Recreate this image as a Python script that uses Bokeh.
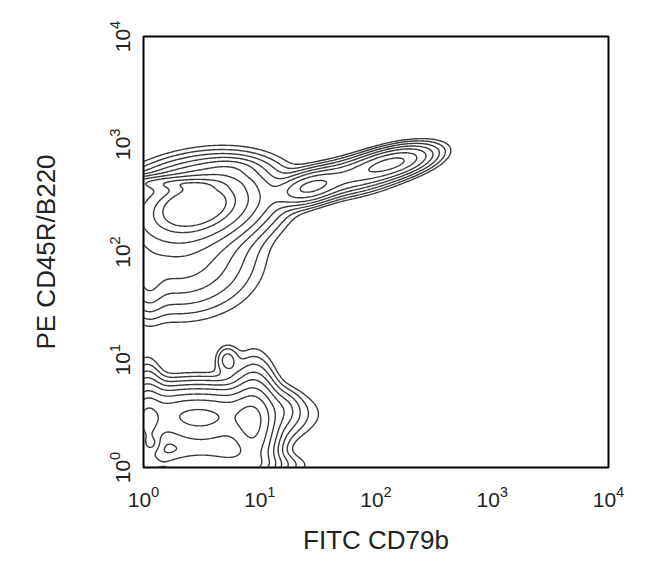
import numpy as np
from contourpy import contour_generator
from bokeh.plotting import figure
from bokeh.models import LogTickFormatter, FixedTicker, Range1d
from bokeh.embed import file_html
from bokeh.resources import INLINE

# Cell populations (log10 units): centre, spread, correlation, height
#            blob  band  T1    T2    T3    smear edge  topb | LA    LB    LC    LD    LH    LE    LF    LG
pop_lx  = [0.45, 0.20, 1.43, 2.15, 1.80, 0.30, 0.04, 0.75, 0.45, 0.95, 0.50, 0.03, 0.50, 0.07, 0.72, 1.22]
pop_ly  = [2.43, 2.64, 2.60, 2.83, 2.70, 1.95, 1.70, 2.78, 0.50, 0.35, 0.02, 0.33, 0.30, 0.22, 1.00, 0.55]
pop_sx  = [0.33, 0.30, 0.16, 0.20, 0.22, 0.35, 0.08, 0.15, 0.42, 0.11, 0.35, 0.08, 0.30, 0.045, 0.06, 0.08]
pop_sy  = [0.20, 0.04, 0.09, 0.09, 0.10, 0.28, 0.18, 0.06, 0.14, 0.30, 0.07, 0.28, 0.22, 0.045, 0.08, 0.10]
pop_rho = [0.25, 0.0, 0.4, 0.5, 0.4, 0.0, 0.0, 0.0, 0.0, 0.0, 0.0, 0.0, 0.0, 0.0, 0.0, 0.0]
pop_w   = [1.00, 0.28, 0.40, 0.42, 0.22, 0.20, 0.08, 0.08, 0.45, 0.45, 0.45, 0.40, 0.30, 0.20, 0.07, 0.04]

levels = [0.02, 0.035, 0.06, 0.10, 0.16, 0.26, 0.40, 0.60, 0.75]

axis_ticks = [1, 10, 100, 1000, 10000]
x_label = "FITC CD79b"
y_label = "PE CD45R/B220"

gx = np.linspace(0, 4, 401)
gy = np.linspace(0, 4, 401)
X, Y = np.meshgrid(gx, gy)
Z = np.zeros_like(X)
for lx, ly, sx, sy, rho, w in zip(pop_lx, pop_ly, pop_sx, pop_sy, pop_rho, pop_w):
    dx = (X - lx) / sx
    dy = (Y - ly) / sy
    Z += w * np.exp(-(dx * dx - 2 * rho * dx * dy + dy * dy) / (2 * (1 - rho ** 2)))

gen = contour_generator(x=gx, y=gy, z=Z)
xs, ys = [], []
for lev in levels:
    for seg in gen.lines(lev):
        xs.append(list(10 ** seg[:, 0]))
        ys.append(list(10 ** seg[:, 1]))

p = figure(width=634, height=560, x_axis_type="log", y_axis_type="log",
           x_range=Range1d(1, 1e4), y_range=Range1d(1, 1e4),
           output_backend="svg", toolbar_location=None,
           min_border_left=143, min_border_right=26, min_border_top=36, min_border_bottom=93)

p.multi_line(xs, ys, line_color="#3a3a3a", line_width=1.4)

p.grid.visible = False
p.outline_line_color = "black"
p.outline_line_width = 2
p.background_fill_color = "white"
p.border_fill_color = "white"

for ax in (p.xaxis, p.yaxis):
    ax.ticker = FixedTicker(ticks=axis_ticks)
    ax.formatter = LogTickFormatter()
    ax.axis_line_color = None
    ax.major_tick_line_color = None
    ax.minor_tick_line_color = None
    ax.major_label_text_font = "Liberation Sans"
    ax.major_label_text_font_size = "21px"
    ax.major_label_text_color = "#222222"
    ax.axis_label_text_font = "Liberation Sans"
    ax.axis_label_text_font_size = "26px"
    ax.axis_label_text_font_style = "normal"
    ax.axis_label_text_color = "#222222"

p.xaxis.axis_label = x_label
p.yaxis.axis_label = y_label
p.yaxis.major_label_orientation = "vertical"
p.xaxis.major_label_standoff = 12
p.xaxis.axis_label_standoff = 15
p.yaxis.major_label_standoff = 8
p.yaxis.axis_label_standoff = 45

open("out.html", "w").write(file_html(p, INLINE))
